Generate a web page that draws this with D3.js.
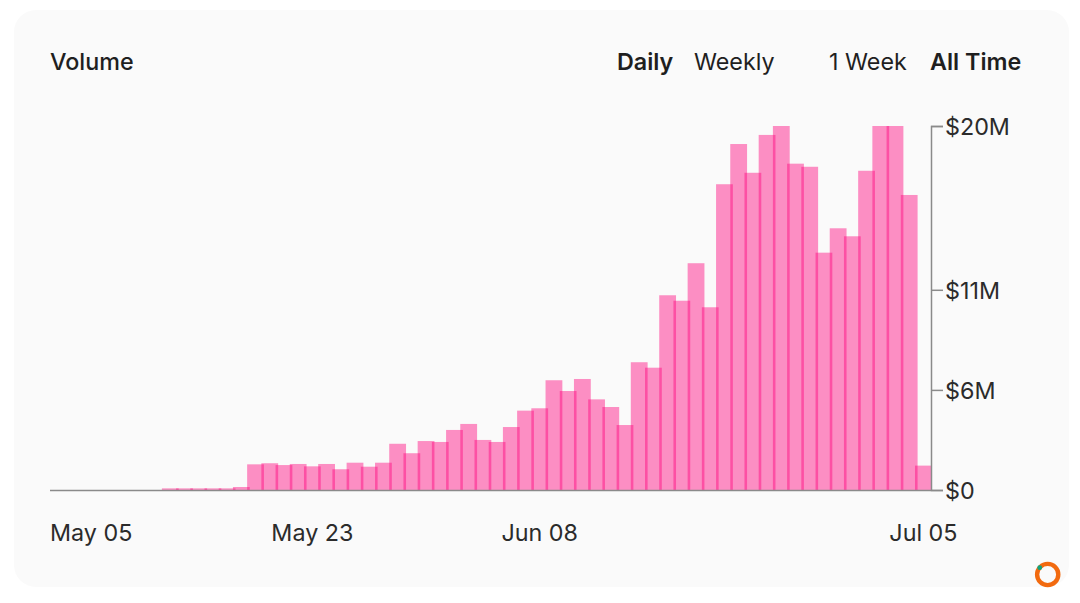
<!DOCTYPE html>
<html>
<head>
<meta charset="utf-8">
<script src="https://cdn.jsdelivr.net/npm/d3@7"></script>
<style>
  html, body { margin: 0; padding: 0; background: #fff; }
  svg { display: block; font-family: Inter, sans-serif; }
</style>
</head>
<body>
<svg id="chart" width="1080" height="603"></svg>
<script>
const days = [
  "May 05", "May 06", "May 07", "May 08", "May 09", "May 10", "May 11", "May 12", "May 13", "May 14",
  "May 15", "May 16", "May 17", "May 18", "May 19", "May 20", "May 21", "May 22", "May 23", "May 24",
  "May 25", "May 26", "May 27", "May 28", "May 29", "May 30", "May 31", "Jun 01", "Jun 02", "Jun 03",
  "Jun 04", "Jun 05", "Jun 06", "Jun 07", "Jun 08", "Jun 09", "Jun 10", "Jun 11", "Jun 12", "Jun 13",
  "Jun 14", "Jun 15", "Jun 16", "Jun 17", "Jun 18", "Jun 19", "Jun 20", "Jun 21", "Jun 22", "Jun 23",
  "Jun 24", "Jun 25", "Jun 26", "Jun 27", "Jun 28", "Jun 29", "Jun 30", "Jul 01", "Jul 02", "Jul 03",
  "Jul 04", "Jul 05"
];
// daily volume in $M
const volume = [
  0, 0, 0, 0, 0, 0, 0, 0, 0.09, 0.09,
  0.09, 0.09, 0.09, 0.165, 1.41, 1.47, 1.37, 1.43, 1.30, 1.43,
  1.14, 1.50, 1.28, 1.50, 2.54, 2.02, 2.69, 2.64, 3.30, 3.63,
  2.75, 2.64, 3.46, 4.36, 4.49, 6.03, 5.44, 6.10, 4.98, 4.56,
  3.57, 7.02, 6.72, 10.70, 10.40, 12.46, 10.04, 16.80, 19.01, 17.43,
  19.51, 20, 17.93, 17.76, 13.04, 14.38, 13.94, 17.54, 20, 20,
  16.21, 1.34
];
const yTicks = [0, 5.5, 11, 20];
const xTicks = ["May 05", "May 23", "Jun 08", "Jul 05"];

const svg = d3.select("#chart");
const textColor = "#2b2b2b";
const fontSize = 23.3;

// card
svg.append("rect")
  .attr("x", 14).attr("y", 10)
  .attr("width", 1055).attr("height", 577)
  .attr("rx", 22)
  .attr("fill", "#fafafa");

const x = d3.scaleBand().domain(days).range([49.5, 930.5]);
const y = d3.scaleLinear().domain([0, 20]).range([490, 126]);

const overlap = 2.6;
svg.append("g")
  .selectAll("rect")
  .data(days)
  .enter().append("rect")
  .attr("x", d => x(d) - overlap / 2)
  .attr("y", (d, i) => y(volume[i]))
  .attr("width", x.bandwidth() + overlap)
  .attr("height", (d, i) => y(0) - y(volume[i]))
  .attr("fill", "#ff007a")
  .attr("fill-opacity", d => volume[days.indexOf(d)] > 0 ? 0.43 : 0);

// axes
const xAxis = svg.append("g")
  .attr("transform", "translate(0,490)")
  .call(d3.axisBottom(x).tickValues(xTicks).tickSize(0).tickPadding(34));
xAxis.select(".domain").attr("stroke", "#8a8a8a").attr("stroke-width", 1.5);
xAxis.selectAll("text")
  .attr("font-size", fontSize)
  .attr("font-family", "Inter, sans-serif")
  .attr("fill", textColor)
  .attr("text-anchor", d => d === "May 05" ? "start" : "middle")
  .attr("x", d => d === "May 05" ? 50 - x(d) - x.bandwidth() / 2 : 0);

const yAxis = svg.append("g")
  .attr("transform", "translate(931,0)")
  .call(d3.axisRight(y)
    .tickValues(yTicks)
    .tickSize(12)
    .tickPadding(2)
    .tickFormat(d => "$" + Math.round(d) + (d === 0 ? "" : "M")));
yAxis.select(".domain").attr("stroke", "#8a8a8a").attr("stroke-width", 1.5);
yAxis.selectAll("line").attr("stroke", "#8a8a8a").attr("stroke-width", 1.5);
yAxis.selectAll("text")
  .attr("font-size", fontSize)
  .attr("font-family", "Inter, sans-serif")
  .attr("fill", textColor)
  .attr("dy", "0.36em");

// header labels
const headerLabels = [
  { text: "Volume", x: 50, weight: 500 },
  { text: "Daily", x: 617, weight: 600 },
  { text: "Weekly", x: 694, weight: 400 },
  { text: "1 Week", x: 829, weight: 400 },
  { text: "All Time", x: 930, weight: 600 }
];
svg.append("g")
  .selectAll("text")
  .data(headerLabels)
  .enter().append("text")
  .attr("x", d => d.x)
  .attr("y", 70)
  .attr("font-size", fontSize)
  .attr("font-weight", d => d.weight)
  .attr("fill", "#1f1f1f")
  .text(d => d.text);

// corner logo
svg.append("circle")
  .attr("cx", 1047.7).attr("cy", 574.5).attr("r", 10.6)
  .attr("fill", "none")
  .attr("stroke", "#f26a0f")
  .attr("stroke-width", 4.4);
svg.append("circle")
  .attr("cx", 1039.7).attr("cy", 567.7).attr("r", 2.4)
  .attr("fill", "#0fa37f");
</script>
</body>
</html>
